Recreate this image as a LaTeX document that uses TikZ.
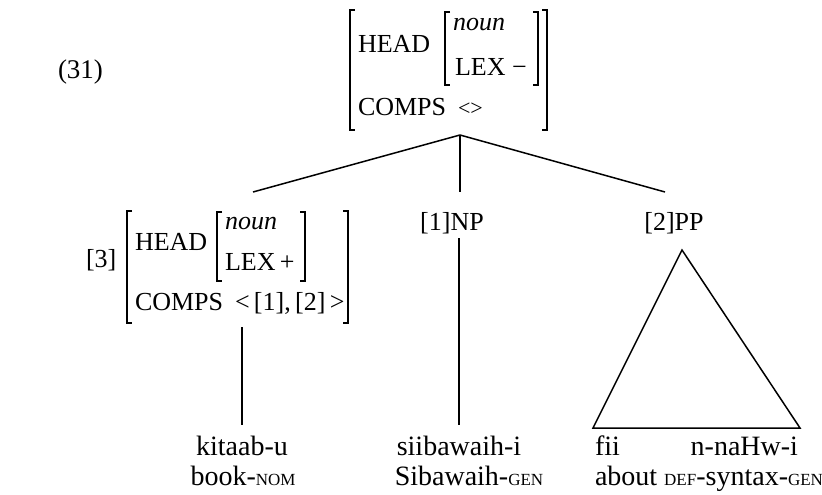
\documentclass[tikz,border=0pt]{standalone}
\usepackage{fontspec}
\setmainfont{Liberation Serif}
\newcommand{\avmf}{\fontsize{26}{30}\selectfont}
\newcommand{\glf}{\fontsize{28}{32}\selectfont}
\newcommand{\smc}[1]{{\fontsize{17}{20}\selectfont #1}}
\tikzset{
  t/.style={inner sep=0pt, outer sep=0pt, anchor=base west, font=\avmf},
  g/.style={inner sep=0pt, outer sep=0pt, anchor=base, font=\glf},
  gw/.style={inner sep=0pt, outer sep=0pt, anchor=base west, font=\glf},
  brk/.style={line width=1.4pt},
  edge/.style={line width=1.5pt},
}
\begin{document}
\begin{tikzpicture}[x=1pt,y=-1pt]
\useasboundingbox (0,0) rectangle (822,495);
% example number
\node[t, font=\fontsize{27}{31}\selectfont] (num) at (58,78) {(31)};
% top AVM
\draw[brk] (355,10) -- (350,10) -- (350,130) -- (355,130);
\draw[brk] (542,10) -- (547,10) -- (547,130) -- (542,130);
\draw[brk] (450,12) -- (445,12) -- (445,85) -- (450,85);
\draw[brk] (533,12) -- (538,12) -- (538,85) -- (533,85);
\node[t] (thead) at (358,53) {HEAD};
\node[t] (tnoun) at (453,31) {\itshape noun};
\node[t] (tlex) at (455,75) {LEX −};
\node[t] (tcomps) at (358,115) {COMPS};
\node[t] (tlist) at (458,115) {\fontsize{22}{26}\selectfont <>};
\coordinate (root) at (460,135);
% lower AVM
\node[t] (tag3) at (86,267) {[3]};
\draw[brk] (132,211) -- (127,211) -- (127,323) -- (132,323);
\draw[brk] (343,211) -- (348,211) -- (348,323) -- (343,323);
\draw[brk] (222,212) -- (217,212) -- (217,281) -- (222,281);
\draw[brk] (300,212) -- (305,212) -- (305,281) -- (300,281);
\node[t] (lhead) at (135,250) {HEAD};
\node[t] (lnoun) at (225,229) {\itshape noun};
\node[t] (llex) at (225,270) {LEX\,+};
\node[t] (lcomps) at (135,310) {COMPS};
\node[t] (llist) at (235,310) {<\,[1],\,[2]\,>};
\coordinate (ltop) at (253,192);
\coordinate (lbot) at (242,327);
% NP and PP
\coordinate (mtop) at (460,192);
\coordinate (rtop) at (665,192);
\node[t, anchor=base] (np) at (452,230) {[1]NP};
\node[t, anchor=base] (pp) at (674,230) {[2]PP};
\coordinate (npbot) at (459,238);
\coordinate (tri) at (682,250);
\coordinate (tril) at (593,428);
\coordinate (trir) at (800,428);
% tree edges
\draw[edge] (root) -- (ltop);
\draw[edge] (root) -- (mtop);
\draw[edge] (root) -- (rtop);
\coordinate (w1) at (242,425);
\coordinate (w2) at (459,425);
\draw[edge] (lbot) -- (w1);
\draw[edge] (npbot) -- (w2);
\draw[edge, line join=miter] (tri) -- (tril) -- (trir) -- cycle;
% words and glosses
\node[g] (kitaab) at (242,455) {kitaab-u};
\node[g] (book) at (243,485) {book-\smc{NOM}};
\node[g] (siib) at (459,455) {siibawaih-i};
\node[g] (sib) at (469,485) {Sibawaih-\smc{GEN}};
\node[gw] (fii) at (595,455) {fii};
\node[gw, anchor=base east] (nahw) at (798,455) {n-naHw-i};
\node[gw] (about) at (595,485) {about \smc{DEF}-syntax-\smc{GEN}};
\end{tikzpicture}
\end{document}
